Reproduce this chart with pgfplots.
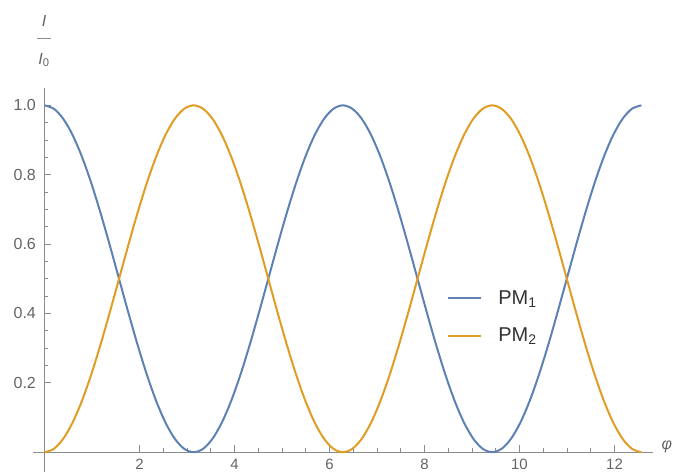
\documentclass[border=0pt]{standalone}
\usepackage{pgfplots}
\pgfplotsset{compat=1.18}
\usepackage{pgfplotstable}
\usepackage{fontspec}
\setmainfont{Liberation Sans}
\definecolor{mblue}{RGB}{94,129,181}
\definecolor{morange}{RGB}{225,156,36}
\definecolor{axgray}{RGB}{140,140,140}
\definecolor{lblgray}{RGB}{100,100,100}
\pgfplotstableread{
x pmone pmtwo
0 1 0
0.19635 0.990393 0.009607
0.39270 0.961940 0.038060
0.58905 0.915735 0.084265
0.78540 0.853553 0.146447
0.98175 0.777785 0.222215
1.17810 0.691342 0.308658
1.37445 0.597545 0.402455
1.57080 0.5 0.5
1.76715 0.402455 0.597545
1.96350 0.308658 0.691342
2.15984 0.222215 0.777785
2.35619 0.146447 0.853553
2.55254 0.084265 0.915735
2.74889 0.038060 0.961940
2.94524 0.009607 0.990393
3.14159 0 1
3.33794 0.009607 0.990393
3.53429 0.038060 0.961940
3.73064 0.084265 0.915735
3.92699 0.146447 0.853553
4.12334 0.222215 0.777785
4.31969 0.308658 0.691342
4.51604 0.402455 0.597545
4.71239 0.5 0.5
4.90874 0.597545 0.402455
5.10509 0.691342 0.308658
5.30144 0.777785 0.222215
5.49779 0.853553 0.146447
5.69414 0.915735 0.084265
5.89049 0.961940 0.038060
6.08684 0.990393 0.009607
6.28319 1 0
6.47953 0.990393 0.009607
6.67588 0.961940 0.038060
6.87223 0.915735 0.084265
7.06858 0.853553 0.146447
7.26493 0.777785 0.222215
7.46128 0.691342 0.308658
7.65763 0.597545 0.402455
7.85398 0.5 0.5
8.05033 0.402455 0.597545
8.24668 0.308658 0.691342
8.44303 0.222215 0.777785
8.63938 0.146447 0.853553
8.83573 0.084265 0.915735
9.03208 0.038060 0.961940
9.22843 0.009607 0.990393
9.42478 0 1
9.62113 0.009607 0.990393
9.81748 0.038060 0.961940
10.01383 0.084265 0.915735
10.21018 0.146447 0.853553
10.40653 0.222215 0.777785
10.60288 0.308658 0.691342
10.79922 0.402455 0.597545
10.99557 0.5 0.5
11.19192 0.597545 0.402455
11.38827 0.691342 0.308658
11.58462 0.777785 0.222215
11.78097 0.853553 0.146447
11.97732 0.915735 0.084265
12.17367 0.961940 0.038060
12.37002 0.990393 0.009607
12.56637 1 0
}\datatable
\begin{document}
\begin{tikzpicture}
\useasboundingbox (0,0) rectangle (675pt,473pt);
\begin{axis}[
  at={(33pt,1pt)}, anchor=south west,
  scale only axis, width=620pt, height=384pt,
  xmin=-0.24, xmax=12.81, ymin=-0.057, ymax=1.05,
  axis lines=middle,
  axis line style={-, axgray, line width=1pt},
  xtick={2,4,...,12}, ytick={0.2,0.4,0.6,0.8,1.0},
  minor x tick num=3, minor y tick num=3,
  tick align=inside,
  major tick length=7pt, minor tick length=4pt,
  every tick/.style={axgray, line width=0.8pt},
  yticklabel style={font=\fontsize{16}{18}\selectfont, text=lblgray, anchor=east, xshift=-5pt,
    /pgf/number format/.cd, fixed, fixed zerofill, precision=1},
  xticklabel style={font=\fontsize{15}{17}\selectfont, text=lblgray, anchor=north, yshift=-3pt},
  /pgf/number format/assume math mode=true,
  legend style={at={(0.668,0.4036)}, anchor=west, draw=none, fill=none, inner sep=0pt,
    font=\fontsize{20}{22}\selectfont, text=black!80, row sep=22pt,
    nodes={inner sep=0pt}},
  legend cell align=left,
  legend image code/.code={\draw[#1] (0pt,0pt) -- (33pt,0pt);},
  /tikz/every odd column/.append style={column sep=16pt},
  clip=false,
]
\addplot[mblue, line width=2pt, smooth] table[x=x, y=pmone] {\datatable};
\addlegendentry{PM\textsubscript{1}}
\addplot[morange, line width=2pt, smooth] table[x=x, y=pmtwo] {\datatable};
\addlegendentry{PM\textsubscript{2}}
\end{axis}
\node[text=lblgray, font=\fontsize{16}{18}\selectfont\itshape] at (44pt,452pt) {I};
\draw[axgray, line width=0.8pt] (37pt,435pt) -- (51pt,435pt);
\node[text=lblgray, font=\fontsize{16}{18}\selectfont] at (44pt,413pt) {\textit{I}\textsubscript{0}};
\node[text=lblgray, font=\fontsize{16}{18}\selectfont\itshape, anchor=west] at (658pt,26pt) {φ};
\end{tikzpicture}
\end{document}
